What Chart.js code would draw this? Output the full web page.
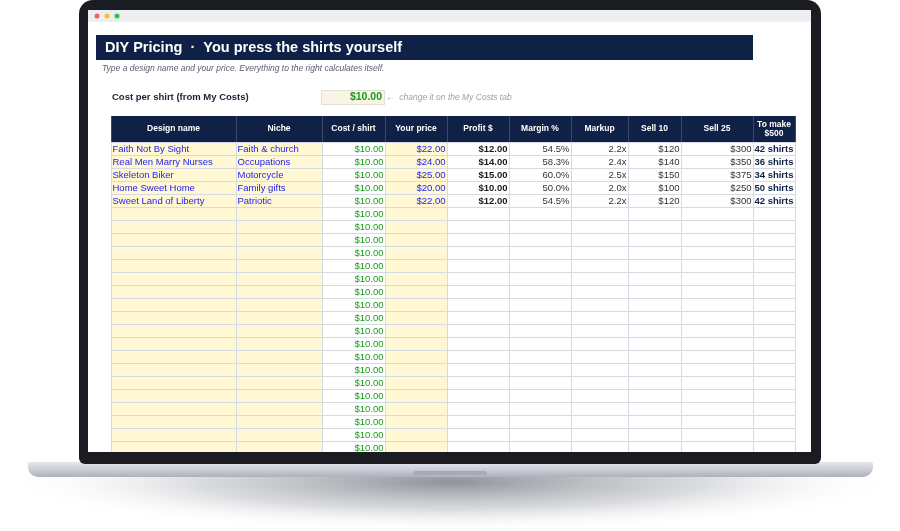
<!DOCTYPE html>
<html>
<head>
<meta charset="utf-8">
<script src="https://cdn.jsdelivr.net/npm/chart.js@4.4.0/dist/chart.umd.min.js"></script>
<style>
  html, body { margin: 0; padding: 0; background: #fff; }
  #wrap { width: 900px; height: 531px; }
</style>
</head>
<body>
<div id="wrap"><canvas id="sheet" width="900" height="531"></canvas></div>
<script>
const headers = ['Design name', 'Niche', 'Cost / shirt', 'Your price', 'Profit $', 'Margin %', 'Markup', 'Sell 10', 'Sell 25', 'To make\n$500'];
const designs = ['Faith Not By Sight', 'Real Men Marry Nurses', 'Skeleton Biker', 'Home Sweet Home', 'Sweet Land of Liberty'];
const niches = ['Faith & church', 'Occupations', 'Motorcycle', 'Family gifts', 'Patriotic'];
const prices = ['$22.00', '$24.00', '$25.00', '$20.00', '$22.00'];
const profits = ['$12.00', '$14.00', '$15.00', '$10.00', '$12.00'];
const margins = ['54.5%', '58.3%', '60.0%', '50.0%', '54.5%'];
const markups = ['2.2x', '2.4x', '2.5x', '2.0x', '2.2x'];
const sell10 = ['$120', '$140', '$150', '$100', '$120'];
const sell25 = ['$300', '$350', '$375', '$250', '$300'];
const toMake = ['42 shirts', '36 shirts', '34 shirts', '50 shirts', '42 shirts'];
const costPerShirt = '$10.00';
const rowCount = 24;

// layout (page units)
const colEdges = [111, 236, 322, 385, 447, 509, 571, 628, 681, 753, 795];
const yellowCols = [0, 1, 3];
const headTop = 116, headBottom = 142, rowH = 13;

const NAVY = '#0f2147', GRID = '#d5dae3', YEL = '#fff8d2', BLUE = '#1c1cf0', GREEN = '#1a9a1a';

const sheetPlugin = {
  id: 'sheet',
  beforeDraw(chart) {
    const c = chart.ctx, sx = chart.scales.x, sy = chart.scales.y;
    const X = v => sx.getPixelForValue(v), Y = v => sy.getPixelForValue(v);
    const rect = (x0, y0, x1, y1, f) => { c.fillStyle = f; c.fillRect(X(x0), Y(y0), X(x1) - X(x0), Y(y1) - Y(y0)); };
    const text = (t, x, y, font, col, align) => { c.font = font; c.fillStyle = col; c.textAlign = align || 'left'; c.textBaseline = 'middle'; c.fillText(t, X(x), Y(y)); };
    c.save();
    // shadow under the laptop
    const g = c.createRadialGradient(X(450), Y(482), 10, X(450), Y(482), 450);
    g.addColorStop(0, 'rgba(110,114,125,0.75)'); g.addColorStop(0.55, 'rgba(150,154,162,0.35)'); g.addColorStop(1, 'rgba(255,255,255,0)');
    c.save(); c.translate(X(450), Y(482)); c.scale(1, 0.11); c.translate(-X(450), -Y(482));
    c.fillStyle = g; c.beginPath(); c.arc(X(450), Y(482), 450, 0, Math.PI * 2); c.fill(); c.restore();
    // base
    const bg = c.createLinearGradient(0, Y(462), 0, Y(478));
    bg.addColorStop(0, '#e6e8ee'); bg.addColorStop(0.5, '#c9ccd5'); bg.addColorStop(1, '#a9adb8');
    c.fillStyle = bg; c.beginPath(); c.roundRect(X(28), Y(462), X(873) - X(28), Y(477) - Y(462), [2, 2, 10, 10]); c.fill();
    c.fillStyle = '#a7abb5'; c.beginPath(); c.roundRect(X(413), Y(471), X(487) - X(413), 4, 2); c.fill();
    // bezel
    c.fillStyle = '#1a1c22'; c.beginPath(); c.roundRect(X(79), Y(0), X(821) - X(79), Y(464) - Y(0), [14, 14, 6, 6]); c.fill();
    // screen
    rect(88, 10, 811, 452, '#ffffff');
    rect(88, 10, 811, 22, '#eceef2');
    [['#ff5f57', 97], ['#febc2e', 107], ['#28c840', 117]].forEach(([col, x]) => {
      c.fillStyle = col; c.beginPath(); c.arc(X(x), Y(16), 2.5, 0, Math.PI * 2); c.fill();
    });
    c.beginPath(); c.rect(X(88), Y(22), X(811) - X(88), Y(452) - Y(22)); c.clip();
    // title
    rect(96, 35, 753, 60, NAVY);
    text('DIY Pricing  ·  You press the shirts yourself', 105, 47.5, 'bold 14.5px Arial, "Liberation Sans"', '#ffffff');
    text('Type a design name and your price. Everything to the right calculates itself.', 102, 69, 'italic 8.5px Arial, "Liberation Sans"', '#5a6070');
    text('Cost per shirt (from My Costs)', 112, 97.5, 'bold 9.5px Arial, "Liberation Sans"', '#1a2030');
    rect(321, 90, 384, 104, '#f8f5e6');
    c.strokeStyle = '#e3e0d0'; c.lineWidth = 1; c.strokeRect(X(321) + 0.5, Y(90) + 0.5, X(384) - X(321), Y(104) - Y(90));
    text(costPerShirt, 382, 97.5, 'bold 10.5px Arial, "Liberation Sans"', GREEN, 'right');
    text('←  change it on the My Costs tab', 386, 97.5, 'italic 8.5px Arial, "Liberation Sans"', '#9aa0ac');
    // header
    rect(colEdges[0], headTop, colEdges[colEdges.length - 1], headBottom, NAVY);
    headers.forEach((h, i) => {
      const cx = (colEdges[i] + colEdges[i + 1]) / 2, lines = h.split('\n');
      lines.forEach((ln, k) => text(ln, cx, (headTop + headBottom) / 2 + (k - (lines.length - 1) / 2) * 9, 'bold 8.5px Arial, "Liberation Sans"', '#ffffff', 'center'));
    });
    // body fills
    const bodyBottom = headBottom + rowCount * rowH;
    yellowCols.forEach(i => rect(colEdges[i], headBottom, colEdges[i + 1], bodyBottom, YEL));
    // grid
    c.strokeStyle = GRID; c.lineWidth = 1;
    for (let r = 0; r <= rowCount; r++) {
      const y = Math.round(Y(headBottom + r * rowH)) + 0.5;
      c.beginPath(); c.moveTo(X(colEdges[0]), y); c.lineTo(X(colEdges[colEdges.length - 1]), y); c.stroke();
    }
    colEdges.forEach(e => {
      const x = Math.round(X(e)) + 0.5;
      c.strokeStyle = GRID;
      c.beginPath(); c.moveTo(x, Y(headBottom)); c.lineTo(x, Y(bodyBottom)); c.stroke();
      c.strokeStyle = '#3a4a6a';
      c.beginPath(); c.moveTo(x, Y(headTop)); c.lineTo(x, Y(headBottom)); c.stroke();
    });
    // cell text
    const f = '9.5px Arial, "Liberation Sans"', fb = 'bold 9.5px Arial, "Liberation Sans"';
    for (let r = 0; r < rowCount; r++) {
      const cy = headBottom + r * rowH + rowH / 2 + 0.5;
      const R = i => colEdges[i + 1] - 1.5, L = i => colEdges[i] + 1.5;
      text(costPerShirt, R(2), cy, f, GREEN, 'right');
      if (r >= designs.length) continue;
      text(designs[r], L(0), cy, f, BLUE);
      text(niches[r], L(1), cy, f, BLUE);
      text(prices[r], R(3), cy, f, BLUE, 'right');
      text(profits[r], R(4), cy, fb, '#1a1a1a', 'right');
      text(margins[r], R(5), cy, f, '#333333', 'right');
      text(markups[r], R(6), cy, f, '#333333', 'right');
      text(sell10[r], R(7), cy, f, '#333333', 'right');
      text(sell25[r], R(8), cy, f, '#333333', 'right');
      text(toMake[r], R(9), cy, fb, NAVY, 'right');
    }
    c.restore();
  }
};

new Chart(document.getElementById('sheet'), {
  type: 'scatter',
  data: { datasets: [{ data: [] }] },
  options: {
    responsive: false,
    animation: false,
    layout: { padding: 0 },
    plugins: { legend: { display: false }, tooltip: { enabled: false } },
    scales: {
      x: { type: 'linear', min: 0, max: 900, display: false },
      y: { type: 'linear', min: 0, max: 531, reverse: true, display: false }
    }
  },
  plugins: [sheetPlugin]
});
</script>
</body>
</html>
